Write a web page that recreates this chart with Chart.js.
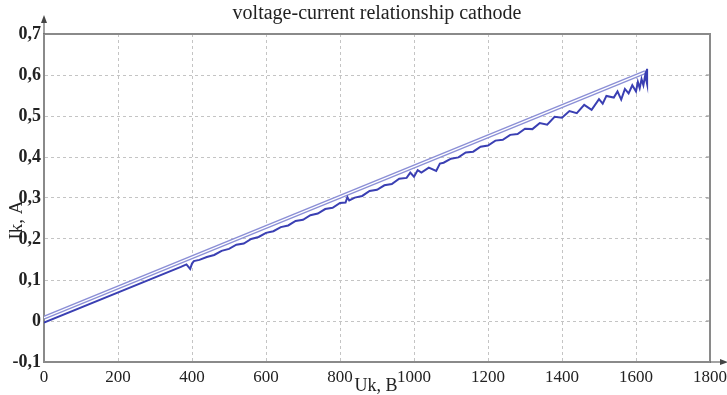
<!DOCTYPE html>
<html>
<head>
<meta charset="utf-8">
<script src="https://cdn.jsdelivr.net/npm/chart.js@4/dist/chart.umd.min.js"></script>
<style>
  html, body { margin: 0; padding: 0; background: #fff; }
  #wrap { width: 727px; height: 395px; }
</style>
</head>
<body>
<div id="wrap"><canvas id="chartIk"></canvas></div>
<script>
/* voltage-current relationship, cathode */

const TITLE = "voltage-current relationship cathode";
const X_TITLE = "Uk, B";
const Y_TITLE = "Ik, A";

const xTicks = [0, 200, 400, 600, 800, 1000, 1200, 1400, 1600, 1800];
const yTicks = [-0.1, 0, 0.1, 0.2, 0.3, 0.4, 0.5, 0.6, 0.7];

// approximation line
const fitU = [0, 1625];
const fitI = [0.008, 0.607];

// measured
const measU = [0, 370, 385, 395, 400, 405, 420, 440, 460, 480, 500, 520, 540, 560, 580,
  600, 620, 640, 660, 680, 700, 720, 740, 760, 780, 800, 815, 820, 825, 840, 860, 880,
  900, 920, 940, 960, 980, 990, 1000, 1010, 1020, 1040, 1060, 1070, 1080, 1100, 1120,
  1140, 1160, 1180, 1200, 1220, 1240, 1260, 1280, 1300, 1320, 1340, 1360, 1380, 1400,
  1420, 1440, 1460, 1480, 1500, 1510, 1520, 1540, 1550, 1560, 1570, 1580, 1590, 1600,
  1605, 1610, 1615, 1620, 1625, 1630, 1630, 1625];
const measI = [-0.004, 0.132, 0.138, 0.127, 0.140, 0.146, 0.149, 0.156, 0.161, 0.171, 0.176,
  0.186, 0.189, 0.200, 0.205, 0.215, 0.219, 0.229, 0.233, 0.244, 0.247, 0.258, 0.262,
  0.273, 0.276, 0.288, 0.289, 0.302, 0.294, 0.301, 0.305, 0.317, 0.320, 0.331, 0.334,
  0.347, 0.349, 0.362, 0.352, 0.368, 0.362, 0.374, 0.366, 0.384, 0.386, 0.396, 0.399,
  0.411, 0.413, 0.425, 0.428, 0.440, 0.442, 0.454, 0.456, 0.469, 0.468, 0.483, 0.479,
  0.498, 0.496, 0.512, 0.507, 0.527, 0.515, 0.541, 0.530, 0.549, 0.545, 0.560, 0.540,
  0.566, 0.555, 0.575, 0.560, 0.583, 0.568, 0.590, 0.575, 0.600, 0.578, 0.615, 0.590];

const pts = (xs, ys) => xs.map((x, i) => ({ x, y: ys[i] }));
const fmt = v => {
  const r = Math.round(v * 10) / 10;
  return r === 0 ? "0" : r.toFixed(1).replace(".", ",");
};

const SERIF = "'Liberation Serif', 'Times New Roman', serif";
const AXIS_GRAY = "#8a8a8a";

// frame, arrows, titles
const decor = {
  id: "decor",
  beforeDatasetsDraw(chart) {
    const { ctx, chartArea: a, scales } = chart;
    ctx.save();
    ctx.strokeStyle = AXIS_GRAY;
    ctx.lineWidth = 2;
    ctx.strokeRect(a.left, a.top, a.right - a.left, a.bottom - a.top);
    // small ticks on right side
    ctx.lineWidth = 1;
    yTicks.forEach(v => {
      const y = scales.y.getPixelForValue(v);
      ctx.beginPath();
      ctx.moveTo(a.right - 4, y);
      ctx.lineTo(a.right, y);
      ctx.stroke();
    });
    ctx.restore();
  },
  afterDraw(chart) {
    const { ctx, chartArea: a } = chart;
    ctx.save();
    ctx.strokeStyle = "#666";
    ctx.fillStyle = "#444";
    ctx.lineWidth = 1.2;
    // y arrow
    ctx.beginPath();
    ctx.moveTo(a.left, a.top);
    ctx.lineTo(a.left, 19);
    ctx.stroke();
    ctx.beginPath();
    ctx.moveTo(a.left, 15);
    ctx.lineTo(a.left - 3, 23);
    ctx.lineTo(a.left + 3, 23);
    ctx.closePath();
    ctx.fill();
    // x arrow
    ctx.beginPath();
    ctx.moveTo(a.right, a.bottom);
    ctx.lineTo(723, a.bottom);
    ctx.stroke();
    ctx.beginPath();
    ctx.moveTo(728, a.bottom);
    ctx.lineTo(720, a.bottom - 3);
    ctx.lineTo(720, a.bottom + 3);
    ctx.closePath();
    ctx.fill();

    ctx.fillStyle = "#222";
    ctx.font = "20px " + SERIF;
    ctx.textAlign = "center";
    ctx.textBaseline = "middle";
    ctx.fillText(TITLE, 377, 14);

    ctx.font = "18px " + SERIF;
    ctx.fillText(X_TITLE, 376, 386);

    ctx.translate(17, 220);
    ctx.rotate(-Math.PI / 2);
    ctx.font = "19px " + SERIF;
    ctx.fillText(Y_TITLE, 0, 0);
    ctx.restore();
  }
};

new Chart(document.getElementById("chartIk"), {
  type: "scatter",
  data: {
    datasets: [
      {
        label: "approx outer", data: pts(fitU, fitI), showLine: true,
        borderColor: "#8b8fd6", borderWidth: 4, pointRadius: 0, order: 3
      },
      {
        label: "approx inner", data: pts(fitU, fitI), showLine: true,
        borderColor: "#ffffff", borderWidth: 1.3, pointRadius: 0, order: 2
      },
      {
        label: "measured", data: pts(measU, measI), showLine: true,
        borderColor: "#3a3fb3", borderWidth: 2, pointRadius: 0, order: 1
      }
    ]
  },
  options: {
    responsive: true,
    maintainAspectRatio: false,
    animation: false,
    layout: { padding: { top: 34, right: 17, left: 0, bottom: 0 } },
    plugins: { legend: { display: false }, tooltip: { enabled: false }, title: { display: false } },
    scales: {
      x: {
        type: "linear", min: 0, max: 1800,
        afterBuildTicks: s => { s.ticks = xTicks.map(v => ({ value: v })); },
        afterFit: s => { s.height = 33; s.paddingRight = 0; s.paddingLeft = 0; },
        grid: { color: "#c4c4c4", lineWidth: 1, drawTicks: false },
        border: { color: AXIS_GRAY, width: 2, dash: [3, 3] },
        ticks: {
          padding: 5, color: "#222", maxRotation: 0, autoSkip: false,
          font: { family: SERIF, size: 17 },
          callback: v => String(v)
        }
      },
      y: {
        type: "linear", min: -0.1, max: 0.7,
        afterBuildTicks: s => { s.ticks = yTicks.map(v => ({ value: v })); },
        afterFit: s => { s.width = 44; },
        grid: { color: "#c4c4c4", lineWidth: 1, drawTicks: false },
        border: { color: AXIS_GRAY, width: 2, dash: [3, 3] },
        ticks: {
          padding: 3, color: "#222", autoSkip: false,
          font: { family: SERIF, size: 18, weight: "bold" },
          callback: v => fmt(v)
        }
      }
    }
  },
  plugins: [decor]
});
</script>
</body>
</html>
